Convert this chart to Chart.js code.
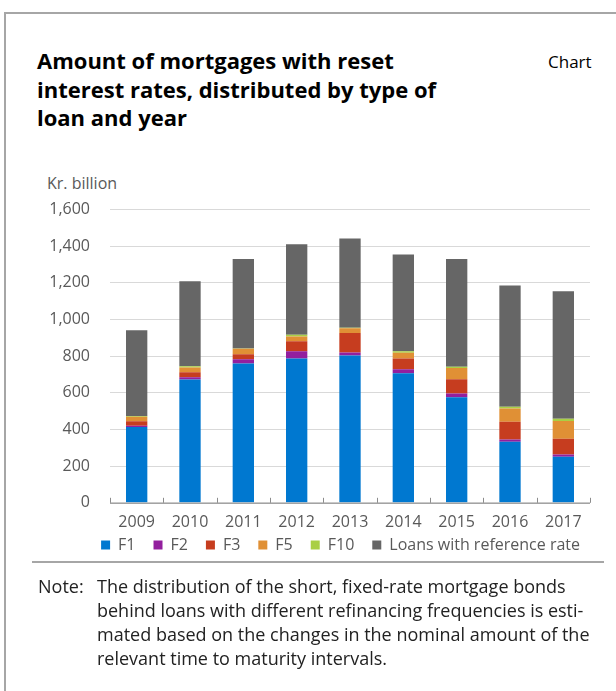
<!DOCTYPE html>
<html>
<head>
<meta charset="utf-8">
<script src="https://cdn.jsdelivr.net/npm/chart.js@4"></script>
<style>
  body { margin: 0; background: #fff; font-family: "Open Sans", sans-serif; }
  .frame { position: absolute; left: 4px; top: 12px; width: 640px; height: 700px;
           border-left: 2px solid #a6a6a6; border-top: 2px solid #a6a6a6; }
  .title { position: absolute; left: 37px; top: 46px; width: 480px; font-size: 22px;
           font-weight: bold; line-height: 28.5px; color: #000; }
  .tag { position: absolute; left: 548px; top: 50px; font-size: 17px; color: #000; }
  .unit { position: absolute; left: 47px; top: 172px; font-size: 16px; color: #595959; }
  .wrap { position: absolute; left: 0; top: 180px; width: 600px; height: 406px; }
  .rule { position: absolute; left: 32px; top: 561px; width: 572px; height: 0;
          border-top: 2px solid #a6a6a6; }
  .note { position: absolute; left: 38px; top: 574px; font-size: 18px; line-height: 24px; color: #222; }
  .note .lbl { position: absolute; left: 0; top: 0; }
  .note .txt { position: absolute; left: 59px; top: 0; width: 520px; white-space: nowrap; }
</style>
</head>
<body>
<div class="frame"></div>
<div class="title">Amount of mortgages with reset<br>interest rates, distributed by type of<br>loan and year</div>
<div class="tag">Chart</div>
<div class="unit">Kr. billion</div>
<div class="wrap"><canvas id="chart"></canvas></div>
<div class="rule"></div>
<div class="note">
  <span class="lbl">Note:</span>
  <span class="txt">The distribution of the short, fixed-rate mortgage bonds<br>behind loans with different refinancing frequencies is esti-<br>mated based on the changes in the nominal amount of the<br>relevant time to maturity intervals.</span>
</div>
<script>
// data, kr. billion
const years = ['2009', '2010', '2011', '2012', '2013', '2014', '2015', '2016', '2017'];
const f1 = [413, 673, 760, 788, 804, 707, 576, 333, 251];
const f2 = [7, 12, 24, 39, 16, 22, 21, 13, 13];
const f3 = [25, 28, 27, 55, 107, 59, 77, 96, 85];
const f5 = [24, 25, 29, 26, 26, 31, 62, 72, 98];
const f10 = [5, 7, 2, 9, 2, 8, 6, 10, 11];
const refRate = [468, 464, 488, 494, 487, 528, 589, 662, 697];
const yTicks = [0, 200, 400, 600, 800, 1000, 1200, 1400, 1600];

const font = { family: '"Open Sans", sans-serif', size: 16 };

function ds(label, data, color) {
    return {
        label: label,
        data: data,
        backgroundColor: color,
        borderWidth: 0,
        barPercentage: 0.4,
        categoryPercentage: 1.0
    };
}

// little tick marks pointing up from the x axis, at the category borders
const innerTicks = {
    id: 'innerTicks',
    afterDatasetsDraw(chart) {
        const x = chart.scales.x;
        const y0 = chart.chartArea.bottom;
        const ctx = chart.ctx;
        ctx.save();
        ctx.strokeStyle = '#8c8c8c';
        ctx.lineWidth = 1;
        ctx.beginPath();
        for (let i = 0; i <= years.length; i++) {
            const px = Math.round(x.getPixelForValue(i - 0.5)) + 0.5;
            ctx.moveTo(px, y0);
            ctx.lineTo(px, y0 - 5);
        }
        ctx.moveTo(chart.chartArea.left, y0 + 0.5);
        ctx.lineTo(chart.chartArea.right, y0 + 0.5);
        ctx.stroke();
        ctx.restore();
    }
};

// legend items need wide horizontal gaps but sit close under the year labels
const legendUp = {
    id: 'legendUp',
    afterLayout(chart) {
        chart.legend.top -= 23;
        chart.legend.bottom -= 23;
        chart.legend.left += 8;
        chart.legend.right += 8;
    }
};

new Chart(document.getElementById('chart'), {
    type: 'bar',
    data: {
        labels: years,
        datasets: [
            ds('F1', f1, '#0078d0'),
            ds('F2', f2, '#931f9e'),
            ds('F3', f3, '#c63d1f'),
            ds('F5', f5, '#e09035'),
            ds('F10', f10, '#a9cf45'),
            ds('Loans with reference rate', refRate, '#666666')
        ]
    },
    options: {
        responsive: true,
        maintainAspectRatio: false,
        animation: false,
        layout: { padding: { top: 0, right: 10, left: 0, bottom: 0 } },
        plugins: {
            legend: {
                position: 'bottom',
                align: 'end',
                labels: {
                    color: '#595959',
                    font: font,
                    boxWidth: 9,
                    boxHeight: 9,
                    padding: 18
                }
            },
            tooltip: { enabled: false }
        },
        scales: {
            x: {
                stacked: true,
                grid: { display: false, drawTicks: false },
                border: { display: false },
                ticks: { color: '#595959', font: font, padding: 10 }
            },
            y: {
                stacked: true,
                min: 0,
                max: 1600,
                afterBuildTicks: (scale) => { scale.ticks = yTicks.map(v => ({ value: v })); },
                afterFit: (scale) => { scale.width = 110; },
                grid: { color: '#d9d9d9', drawTicks: false },
                border: { display: false },
                ticks: {
                    color: '#595959',
                    font: font,
                    padding: 20,
                    callback: (v) => v.toLocaleString('en-US')
                }
            }
        }
    },
    plugins: [innerTicks, legendUp]
});
</script>
</body>
</html>
